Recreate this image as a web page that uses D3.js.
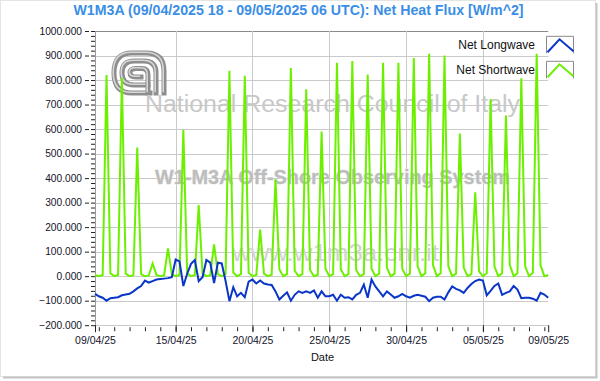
<!DOCTYPE html>
<html><head><meta charset="utf-8">
<script src="https://cdn.jsdelivr.net/npm/d3@7"></script>
<style>html,body{margin:0;padding:0;background:#fff;} svg{display:block;font-family:"Liberation Sans",Arial,sans-serif;}</style>
</head><body><svg id="c" width="600" height="381"></svg>
<script>
// ---- data (6-hourly samples from 09/04/2025 18 UTC to 09/05/2025 06 UTC) ----
const startTime = "2025-04-09T18:00:00Z";
const stepHours = 6;
const netLongwave = [
 -72,
 -82,-88,-100,-90,  -88,-86,-78,-75,  -72,-62,-50,-40,  -18,-26,-20,-14,  -12,-10,-8,-4,
 68,60,-40,10,  50,66,-20,-4,  66,55,-28,55,  52,-20,-102,-45,  -82,-68,-86,-22,
 -14,-30,-18,-30,  -34,-36,-62,-95,  -80,-66,-100,-76,  -62,-68,-62,-68,  -58,-88,-62,-82,
 -82,-76,-100,-76,  -88,-86,-95,-76,  -68,-34,-88,-14,  -42,-62,-82,-62,  -75,-88,-82,-72,
 -82,-88,-80,-76,  -80,-84,-102,-88,  -84,-84,-95,-66,  -42,-52,-58,-68,  -48,-32,-20,-14,
 -18,-78,-60,-40,  -30,-76,-68,-62,  -40,-55,-90,-88,  -88,-92,-100,-68,
 -75,-88
];
const netShortwave = [
 5,
 0,5,820,12,  0,5,808,10,  0,4,525,8,  0,3,52,5,  0,4,113,8,
 0,6,597,12,  0,5,290,10,  0,4,130,8,  0,8,838,15,  0,8,817,14,
 0,5,190,10,  0,6,395,28,  0,8,849,22,  0,8,762,25,  0,6,590,30,
 0,8,870,28,  0,8,878,25,  0,8,822,30,  0,10,870,35,  0,10,870,30,
 0,10,890,40,  0,12,907,45,  0,12,900,40,  0,10,582,35,  0,8,342,20,
 0,12,723,40,  0,12,655,45,  0,12,807,40,  0,14,907,45,
 0,5
];
const yTicks = [-200,-100,0,100,200,300,400,500,600,700,800,900,1000];
const xMajorTicks = ["2025-04-09T18:00:00Z","2025-04-15T00:00:00Z","2025-04-20T00:00:00Z","2025-04-25T00:00:00Z","2025-04-30T00:00:00Z","2025-05-05T00:00:00Z","2025-05-09T06:00:00Z"];
const xMajorLabels = ["09/04/25","15/04/25","20/04/25","25/04/25","30/04/25","05/05/25","09/05/25"];
const xGridTicks = ["2025-04-15T00:00:00Z","2025-04-20T00:00:00Z","2025-04-25T00:00:00Z","2025-04-30T00:00:00Z","2025-05-05T00:00:00Z"];
const seriesNames = ["Net Longwave","Net Shortwave"];
const seriesColors = ["#0a36c8","#6cf000"];
const titleText = "W1M3A (09/04/2025 18 - 09/05/2025 06 UTC): Net Heat Flux [W/m^2]";

// ---- build ----
const t0 = new Date(startTime).getTime();
const times = netLongwave.map((_, i) => new Date(t0 + i * stepHours * 3600e3));
const svg = d3.select("#c");
const L = 95, R = 548.2, T = 31, B = 325.2;
const x = d3.scaleUtc().domain([times[0], times[times.length - 1]]).range([L, R]);
const y = d3.scaleLinear().domain([-200, 1000]).range([B, T]);

// outer frame + shadow
svg.append("rect").attr("x",0.5).attr("y",0.5).attr("width",595).attr("height",376).attr("fill","#fff").attr("stroke","#e4e4e4");
svg.append("line").attr("x1",596.5).attr("x2",596.5).attr("y1",3).attr("y2",378).attr("stroke","#c4c4c4").attr("stroke-width",2);
svg.append("line").attr("x1",3).attr("x2",597.5).attr("y1",377.5).attr("y2",377.5).attr("stroke","#c4c4c4").attr("stroke-width",2);

// title
svg.append("text").attr("x",298.5).attr("y",14.5).attr("text-anchor","middle")
  .attr("font-size",14.2).attr("font-weight","bold").attr("fill","#3a8ee6").text(titleText);

// gridlines
const grid = svg.append("g");
grid.selectAll("line.h").data(yTicks).join("line")
  .attr("x1",L).attr("x2",R).attr("y1",d=>Math.round(y(d))+0.5).attr("y2",d=>Math.round(y(d))+0.5)
  .attr("stroke",d=>d===1000?"#8a8a8a":"#cacaca").attr("stroke-width",1);
grid.selectAll("line.v").data(xGridTicks.map(d=>new Date(d))).join("line")
  .attr("x1",d=>Math.round(x(d))+0.5).attr("x2",d=>Math.round(x(d))+0.5).attr("y1",T).attr("y2",B+1)
  .attr("stroke","#cacaca").attr("stroke-width",1);

// watermark
const wm = svg.append("g");
const logoPaths = [
  "M150,93 H132 Q114,93 114,73 Q114,53 132,53 H146 Q164,53 164,71 V93",
  "M148,85 H134 Q122,85 122,73 Q122,61 134,61 H144 Q156,61 156,73 V93",
  "M141,77 H136 Q130,77 130,72.5 Q130,68.5 136,68.5 H142 Q148,68.5 148,75 V93"
];
logoPaths.forEach(p => {
  wm.append("path").attr("d",p).attr("fill","none").attr("stroke","#8e8e8e").attr("stroke-width",5).attr("stroke-linecap","square");
  wm.append("path").attr("d",p).attr("fill","none").attr("stroke","#d6d6d6").attr("stroke-width",1.6).attr("transform","translate(-0.8,-0.8)");
});
wm.append("text").attr("x",145).attr("y",111.5).attr("font-size",23.5).attr("fill","#c8c8c8")
  .attr("textLength",375).attr("lengthAdjust","spacingAndGlyphs").text("National Research Council of Italy");
wm.append("text").attr("x",155).attr("y",184).attr("font-size",19.5).attr("font-weight","bold").attr("fill","#bdbdbd")
  .attr("stroke","#e6e6e6").attr("stroke-width",0.8).attr("paint-order","stroke")
  .attr("textLength",355).attr("lengthAdjust","spacingAndGlyphs").text("W1-M3A Off-Shore Observing System");
wm.append("text").attr("x",232).attr("y",261).attr("font-size",24).attr("fill","#d2d2d2")
  .attr("textLength",207).attr("lengthAdjust","spacingAndGlyphs").text("www.w1m3a.cnr.it");

// y axis
svg.append("line").attr("x1",L+0.5).attr("x2",L+0.5).attr("y1",T).attr("y2",B+1).attr("stroke","#9a9a9a");
const yMinor = d3.range(-200, 1001, 20);
svg.append("g").attr("transform",`translate(${L},0)`)
  .call(d3.axisLeft(y).tickValues(yMinor).tickSize(4).tickFormat(""))
  .call(g=>{g.select(".domain").remove(); g.selectAll("line").attr("stroke","#222");});
svg.append("g").attr("transform",`translate(${L-6},0)`)
  .call(d3.axisLeft(y).tickValues(yTicks).tickSize(4).tickPadding(3).tickFormat(d3.format(".3f")))
  .call(g=>{g.select(".domain").remove(); g.selectAll("line").attr("stroke","#222");
    g.selectAll("text").attr("font-size",10.2).attr("fill","#141428").attr("font-family","Liberation Sans, Arial, sans-serif");});

// x axis
const dayTicks = d3.utcDay.range(new Date("2025-04-10T00:00:00Z"), new Date("2025-05-09T00:00:01Z"));
svg.append("g").attr("transform",`translate(0,${B+2})`)
  .call(d3.axisBottom(x).tickValues(dayTicks).tickSize(4).tickFormat(""))
  .call(g=>{g.select(".domain").remove(); g.selectAll("line").attr("stroke","#222");});
svg.append("g").attr("transform",`translate(0,${B})`)
  .call(d3.axisBottom(x).tickValues(xMajorTicks.map(d=>new Date(d))).tickSize(7).tickPadding(4)
        .tickFormat((d,i)=>xMajorLabels[i]))
  .call(g=>{g.select(".domain").remove(); g.selectAll("line").attr("stroke","#222");
    g.selectAll("text").attr("font-size",10.5).attr("fill","#14142a").attr("font-family","Liberation Sans, Arial, sans-serif");});
svg.append("text").attr("x",322.5).attr("y",361).attr("text-anchor","middle").attr("font-size",11).attr("fill","#111").text("Date");

// series
const series = [netLongwave, netShortwave];
const lineGen = vals => d3.line().x((d,i)=>x(times[i])).y(d=>y(d))(vals);
[1,0].forEach(k => {
  svg.append("path").attr("d",lineGen(series[k])).attr("fill","none")
    .attr("stroke",seriesColors[k]).attr("stroke-width",2).attr("stroke-linejoin","miter");
});

// legend
const legY = [44.5, 69.5];
seriesNames.forEach((n,k)=>{
  svg.append("text").attr("x",535).attr("y",legY[k]+4.3).attr("text-anchor","end").attr("font-size",12).attr("fill","#111").text(n);
  const bx = 546.5, by = legY[k]-8.2;
  svg.append("path").attr("d",`M${bx},${by+17} V${by} H${bx+27} V${by+17}`).attr("fill","none").attr("stroke","#8a8a8a");
  svg.append("path").attr("d",`M${bx+1},${by+16} L${bx+13},${by+3} L${bx+27},${by+15}`).attr("fill","none")
    .attr("stroke",seriesColors[k]).attr("stroke-width",2);
});
</script></body></html>
